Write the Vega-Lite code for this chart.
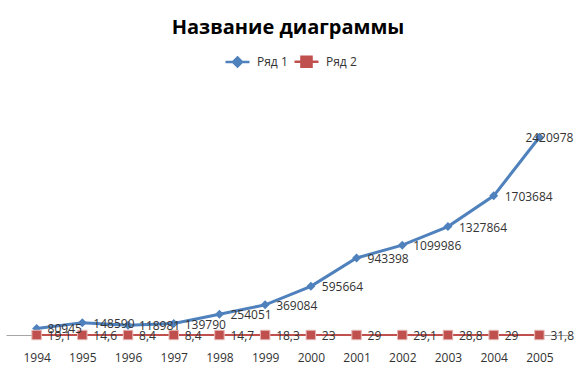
{
  "$schema": "https://vega.github.io/schema/vega-lite/v6.json",
  "width": 564,
  "height": 245,
  "autosize": {"type": "none"},
  "padding": {"left": 6, "right": 8, "top": 90, "bottom": 44},
  "background": "white",
  "title": {"text": "Название диаграммы", "fontSize": 20, "font": "Open Sans", "fontWeight": "bold", "color": "#000000", "anchor": "middle", "frame": "group", "offset": 10},
  "config": {"view": {"stroke": null}, "font": "Open Sans"},
  "data": {"values": [
    {"year": "1994", "series": "Ряд 1", "value": 80945, "label": "80945"},
    {"year": "1995", "series": "Ряд 1", "value": 148590, "label": "148590"},
    {"year": "1996", "series": "Ряд 1", "value": 118981, "label": "118981"},
    {"year": "1997", "series": "Ряд 1", "value": 139790, "label": "139790"},
    {"year": "1998", "series": "Ряд 1", "value": 254051, "label": "254051"},
    {"year": "1999", "series": "Ряд 1", "value": 369084, "label": "369084"},
    {"year": "2000", "series": "Ряд 1", "value": 595664, "label": "595664"},
    {"year": "2001", "series": "Ряд 1", "value": 943398, "label": "943398"},
    {"year": "2002", "series": "Ряд 1", "value": 1099986, "label": "1099986"},
    {"year": "2003", "series": "Ряд 1", "value": 1327864, "label": "1327864"},
    {"year": "2004", "series": "Ряд 1", "value": 1703684, "label": "1703684"},
    {"year": "2005", "series": "Ряд 1", "value": 2420978, "label": "2420978"},
    {"year": "1994", "series": "Ряд 2", "value": 19.1, "label": "19,1"},
    {"year": "1995", "series": "Ряд 2", "value": 14.6, "label": "14,6"},
    {"year": "1996", "series": "Ряд 2", "value": 8.4, "label": "8,4"},
    {"year": "1997", "series": "Ряд 2", "value": 8.4, "label": "8,4"},
    {"year": "1998", "series": "Ряд 2", "value": 14.7, "label": "14,7"},
    {"year": "1999", "series": "Ряд 2", "value": 18.3, "label": "18,3"},
    {"year": "2000", "series": "Ряд 2", "value": 23, "label": "23"},
    {"year": "2001", "series": "Ряд 2", "value": 29, "label": "29"},
    {"year": "2002", "series": "Ряд 2", "value": 29.1, "label": "29,1"},
    {"year": "2003", "series": "Ряд 2", "value": 28.8, "label": "28,8"},
    {"year": "2004", "series": "Ряд 2", "value": 29, "label": "29"},
    {"year": "2005", "series": "Ряд 2", "value": 31.8, "label": "31,8"}
  ]},
  "encoding": {
    "x": {"field": "year", "type": "ordinal", "scale": {"type": "point", "padding": 0.67},
      "axis": {"title": null, "labelAngle": 0, "ticks": false, "grid": false, "domainColor": "#A6A6A6", "domainWidth": 1, "labelPadding": 17, "labelFontSize": 12, "labelFont": "Open Sans", "labelColor": "#333333"}},
    "y": {"field": "value", "type": "quantitative", "scale": {"domain": [0, 3000000]}, "axis": null}
  },
  "layer": [
    {
      "transform": [{"filter": "datum.series === 'Ряд 1'"}],
      "mark": {"type": "line", "strokeWidth": 3},
      "encoding": {
        "color": {"field": "series", "type": "nominal", "scale": {"domain": ["Ряд 1", "Ряд 2"], "range": ["#4F81BD", "#C0504D"]},
          "legend": {"orient": "none", "legendX": 218, "legendY": -42, "direction": "horizontal", "title": null, "symbolSize": 576, "symbolStrokeWidth": 2.5, "labelFontSize": 12, "labelFont": "Open Sans", "labelColor": "#333333", "labelOffset": 6, "columnPadding": 1, "padding": 0,
            "encode": {"symbols": {"update": {
              "shape": {"signal": "datum.value === 'Ряд 1' ? 'M-1,0L1,0M0,-0.375L0.375,0L0,0.375L-0.375,0Z' : 'M-1,0L1,0M-0.42,-0.42L0.42,-0.42L0.42,0.42L-0.42,0.42Z'"},
              "fill": {"signal": "datum.value === 'Ряд 1' ? '#4F81BD' : '#C0504D'"},
              "stroke": {"signal": "datum.value === 'Ряд 1' ? '#4F81BD' : '#C0504D'"},
              "opacity": {"value": 1},
              "fillOpacity": {"value": 1}
            }}}}}
      }
    },
    {
      "transform": [{"filter": "datum.series === 'Ряд 1'"}],
      "mark": {"type": "point", "shape": "diamond", "filled": true, "size": 81, "opacity": 1},
      "encoding": {"color": {"field": "series", "type": "nominal"}}
    },
    {
      "transform": [{"filter": "datum.series === 'Ряд 2'"}],
      "mark": {"type": "line", "strokeWidth": 2},
      "encoding": {"color": {"field": "series", "type": "nominal"}}
    },
    {
      "transform": [{"filter": "datum.series === 'Ряд 2'"}],
      "mark": {"type": "square", "size": 90, "opacity": 1, "stroke": "#E6B9B8", "strokeWidth": 1},
      "encoding": {"color": {"field": "series", "type": "nominal"}}
    },
    {
      "transform": [{"filter": "!(datum.series === 'Ряд 1' && datum.year === '2005')"}],
      "mark": {"type": "text", "align": "left", "baseline": "middle", "dx": 11, "dy": 1, "fontSize": 12, "font": "Open Sans", "color": "#333333"},
      "encoding": {"text": {"field": "label"}}
    },
    {
      "transform": [{"filter": "datum.series === 'Ряд 1' && datum.year === '2005'"}],
      "mark": {"type": "text", "align": "left", "baseline": "middle", "dx": -14, "dy": 1, "fontSize": 12, "font": "Open Sans", "color": "#333333"},
      "encoding": {"text": {"field": "label"}}
    }
  ]
}
